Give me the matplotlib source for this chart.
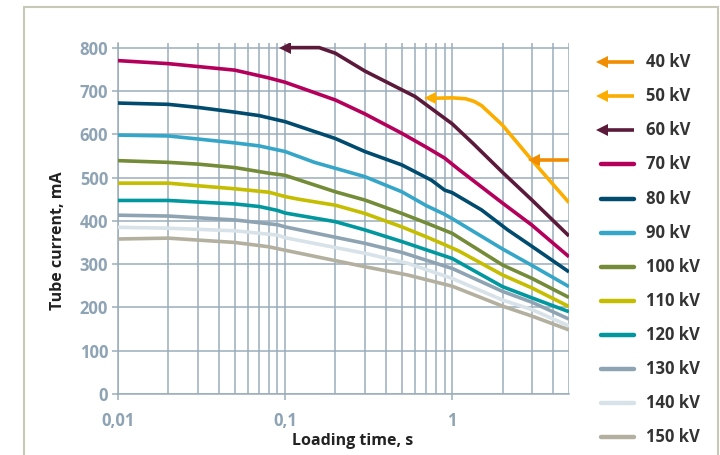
import numpy as np
import matplotlib.pyplot as plt
from matplotlib.patches import Rectangle

plt.rcParams['font.family'] = ['Open Sans', 'DejaVu Sans']

# tube current (mA) vs loading time (s)
kv_labels = ['40 kV', '50 kV', '60 kV', '70 kV', '80 kV', '90 kV', '100 kV',
             '110 kV', '120 kV', '130 kV', '140 kV', '150 kV']

t40 = [3.1, 5]
i40 = [540, 540]
t50 = [0.74, 1.0, 1.2, 1.35, 1.5, 2, 3, 5]
i50 = [683, 684, 682, 676, 666, 621, 540, 442]
t60 = [0.1, 0.16, 0.2, 0.3, 0.6, 0.9, 1.0, 1.33, 2, 3, 5]
i60 = [800, 800, 787, 746, 687, 637, 624, 579, 512, 448, 365]
t70 = [0.01, 0.02, 0.05, 0.08, 0.1, 0.2, 0.3, 0.5, 0.7, 0.9, 1.1, 2, 3, 5]
i70 = [770, 763, 748, 730, 720, 679, 647, 602, 570, 545, 518, 441, 390, 317]
t80 = [0.01, 0.02, 0.03, 0.05, 0.07, 0.1, 0.2, 0.3, 0.5, 0.75, 0.9, 1.0, 1.5, 2.15, 3, 5]
i80 = [672, 669, 662, 651, 643, 629, 590, 560, 529, 494, 471, 465, 425, 379, 341, 282]
t90 = [0.01, 0.02, 0.03, 0.05, 0.07, 0.1, 0.15, 0.3, 0.5, 0.7, 0.9, 1.0, 2, 3, 5]
i90 = [598, 596, 589, 580, 573, 560, 535, 502, 467, 435, 415, 405, 335, 297, 248]
t100 = [0.01, 0.02, 0.03, 0.05, 0.08, 0.1, 0.2, 0.3, 0.5, 0.7, 1.0, 2, 3, 5]
i100 = [539, 535, 531, 523, 510, 505, 467, 448, 417, 395, 371, 298, 267, 223]
t110 = [0.01, 0.02, 0.03, 0.05, 0.08, 0.1, 0.12, 0.2, 0.3, 0.5, 0.7, 0.9, 1.1, 2, 3, 5]
i110 = [487, 487, 481, 474, 466, 456, 450, 436, 417, 386, 363, 345, 330, 275, 245, 202]
t120 = [0.01, 0.02, 0.05, 0.07, 0.09, 0.1, 0.2, 0.3, 0.5, 0.7, 1.0, 2, 3, 5]
i120 = [447, 447, 439, 433, 424, 418, 398, 379, 352, 333, 313, 248, 222, 190]
t130 = [0.01, 0.02, 0.05, 0.09, 0.1, 0.2, 0.3, 0.5, 0.7, 1.0, 2, 3, 5]
i130 = [413, 411, 402, 391, 386, 362, 348, 327, 309, 290, 237, 212, 173]
t140 = [0.01, 0.02, 0.05, 0.09, 0.1, 0.3, 0.54, 1.0, 2, 3, 5]
i140 = [385, 383, 377, 367, 361, 325, 302, 267, 217, 195, 157]
t150 = [0.01, 0.02, 0.05, 0.08, 0.1, 0.3, 0.54, 1.0, 2, 3, 5]
i150 = [358, 360, 350, 340, 332, 294, 275, 249, 203, 180, 148]

times = [t40, t50, t60, t70, t80, t90, t100, t110, t120, t130, t140, t150]
currents = [i40, i50, i60, i70, i80, i90, i100, i110, i120, i130, i140, i150]
colors = ['#f28c00', '#fbad00', '#5c1a3b', '#b5005b', '#004b6e', '#36a6c8',
          '#748b38', '#c4bd00', '#00979e', '#8fa4b3', '#d8e2e9', '#b3b0a0']
has_arrow = [True, True, True] + [False] * 9

yticks = [0, 100, 200, 300, 400, 500, 600, 700, 800]
xticks = [0.01, 0.1, 1]
xticklabels = ['0,01', '0,1', '1']

grid_c = '#9aadbb'
tick_c = '#8ea3b3'

fig = plt.figure(figsize=(7.2, 4.55), dpi=100)
ax = fig.add_axes([118 / 720, 1 - 394 / 455, (569 - 118) / 720, (394 - 43.3) / 455])

for t, i, c, arr in zip(times, currents, colors, has_arrow):
    ax.plot(t, i, color=c, lw=2.6, solid_capstyle='butt', solid_joinstyle='round', zorder=3)
    if arr:
        ax.plot(t[0], i[0], marker='<', color=c, markersize=8, markeredgewidth=0, zorder=4)

ax.set_xscale('log')
ax.set_xlim(0.01, 5)
ax.set_ylim(0, 810)
ax.set_yticks(yticks)
ax.set_xticks(xticks)
ax.set_xticklabels(xticklabels)
ax.grid(True, which='both', axis='x', color=grid_c, lw=1.1)
ax.grid(True, which='major', axis='y', color=grid_c, lw=1.1)
ax.set_axisbelow(True)
for s in ['top', 'right']:
    ax.spines[s].set_visible(False)
for s in ['left', 'bottom']:
    ax.spines[s].set_color(grid_c)
    ax.spines[s].set_linewidth(1.1)
ax.tick_params(axis='both', which='major', length=4, width=1.1, color=grid_c,
               labelcolor=tick_c, labelsize=12, pad=3)
ax.tick_params(axis='x', which='minor', length=0)
ax.tick_params(axis='x', which='major', pad=9)
for lab in ax.get_xticklabels() + ax.get_yticklabels():
    lab.set_fontweight('bold')

ax.set_ylabel('Tube current, mA', fontsize=11.5, fontweight='bold', color='#222222')
ax.yaxis.set_label_coords(-0.115, 0.438)
ax.set_xlabel('Loading time, s', fontsize=11.5, fontweight='bold', color='#222222')
ax.xaxis.set_label_coords(0.52, -0.112)

# legend column on the right
lax = fig.add_axes([590 / 720, 0, 130 / 720, 1])
lax.set_xlim(590, 720)
lax.set_ylim(455, 0)
lax.axis('off')
for k, (lab, c, arr) in enumerate(zip(kv_labels, colors, has_arrow)):
    y = 62.3 + 34.05 * k
    if arr:
        lax.plot([603, 634], [y, y], color=c, lw=2.6, solid_capstyle='butt')
        lax.plot([602], [y], marker='<', color=c, markersize=8, markeredgewidth=0)
    else:
        lax.plot([601, 634], [y, y], color=c, lw=3.2, solid_capstyle='round')
    lax.text(646, y, lab, fontsize=12, fontweight='bold', color='#333333', va='center', ha='left')

# outer frame
fig.patches.append(Rectangle((24 / 720, -0.1), (718 - 24) / 720, 1.1 - 7 / 455,
                             transform=fig.transFigure, fill=False,
                             edgecolor='#c8c8b8', lw=1.5))

fig.savefig('out.png', dpi=100)
